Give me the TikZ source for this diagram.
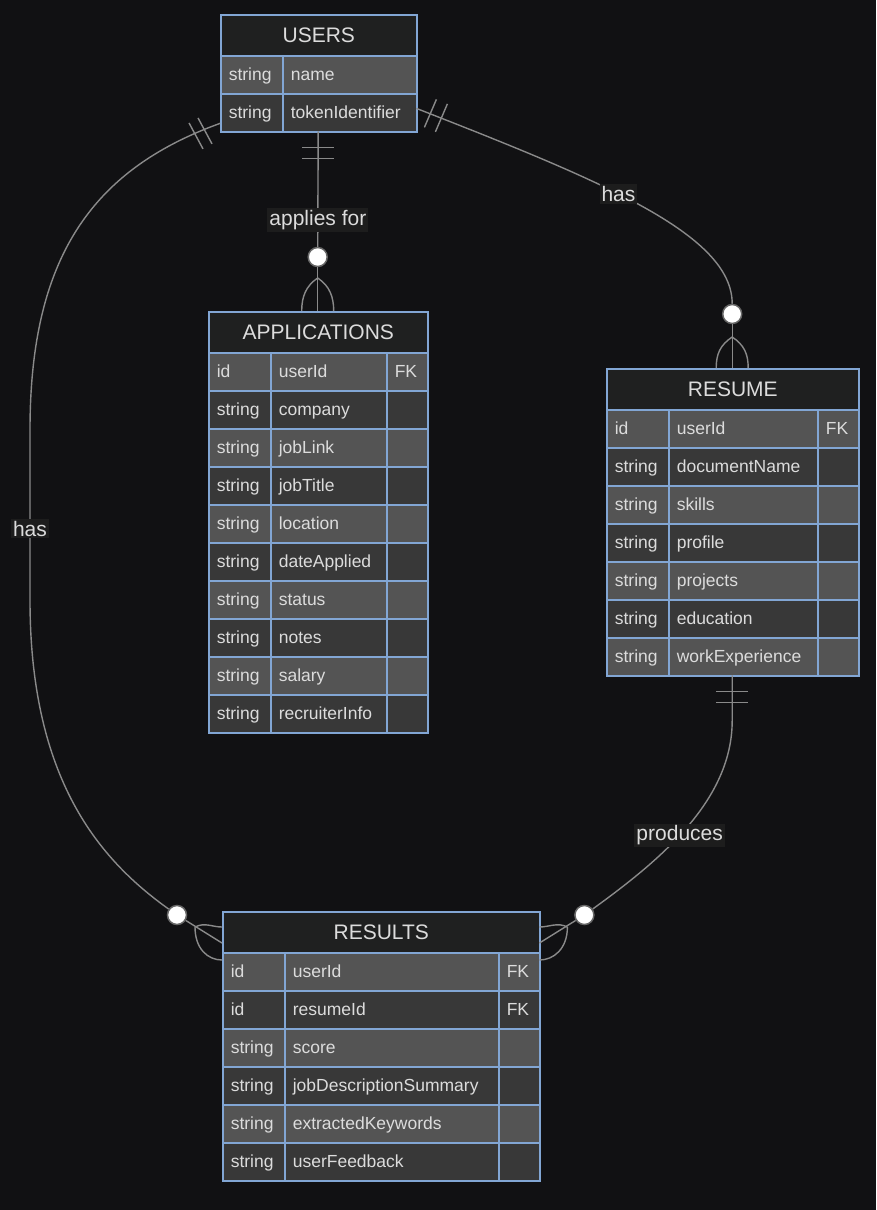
\documentclass[tikz,border=0pt]{standalone}
\usepackage{fontspec}
\setmainfont{Liberation Sans}
\usetikzlibrary{calc}

\definecolor{bg}{HTML}{111113}
\definecolor{headfill}{HTML}{1F2020}
\definecolor{rowA}{HTML}{545454}
\definecolor{rowB}{HTML}{383838}
\definecolor{edgeblue}{HTML}{82A6D4}
\definecolor{txt}{HTML}{DCDCDC}
\definecolor{linegrey}{HTML}{8A8A8A}
\definecolor{circgrey}{HTML}{666666}
\definecolor{labelbg}{HTML}{1D1D1D}

\tikzset{
  tablebox/.style={anchor=north west, inner sep=0pt},
  tablehead/.style={draw=edgeblue, line width=1.6pt, fill=headfill, text=txt, anchor=north west,
    minimum height=41pt, inner sep=0pt, font=\fontsize{21}{24}\selectfont},
  cell/.style={draw=edgeblue, line width=1.6pt, anchor=north west, minimum height=38pt,
    text width=#1, inner xsep=8pt, inner ysep=0pt, text height=14pt, text depth=2pt,
    align=left, text=txt, font=\fontsize{17.5}{20}\selectfont},
  rel/.style={draw=linegrey, line width=1.4pt},
  rellabel/.style={fill=labelbg, text=txt, inner sep=2pt, font=\fontsize{21}{24}\selectfont},
  zeromark/.style={circle, draw=circgrey, fill=white, line width=1.5pt, minimum size=19pt, inner sep=0pt}
}

\begin{document}
\begin{tikzpicture}[x=1pt, y=-1pt]
  \fill[bg] (0,0) rectangle (876,1210);
  \useasboundingbox (0,0) rectangle (876,1210);

  % USERS
  \node[tablebox, minimum width=196pt, minimum height=117pt] (users) at (220,14) {};
  \node[tablehead, minimum width=196pt] (users-h) at (220,14) {USERS};
  \foreach \ty/\nm [count=\i] in {string/name, string/tokenIdentifier} {
    \pgfmathtruncatemacro{\yy}{55+38*(\i-1)}
    \ifodd\i\def\rf{rowA}\else\def\rf{rowB}\fi
    \node[cell=46pt, fill=\rf] (users-t\i) at (220,\yy) {\ty};
    \node[cell=118pt, fill=\rf] (users-n\i) at (282,\yy) {\nm};
  }

  % APPLICATIONS
  \node[tablebox, minimum width=219pt, minimum height=421pt] (applications) at (208,311) {};
  \node[tablehead, minimum width=219pt] (applications-h) at (208,311) {APPLICATIONS};
  \foreach \ty/\nm/\k [count=\i] in {id/userId/FK, string/company/{}, string/jobLink/{},
      string/jobTitle/{}, string/location/{}, string/dateApplied/{}, string/status/{},
      string/notes/{}, string/salary/{}, string/recruiterInfo/{}} {
    \pgfmathtruncatemacro{\yy}{352+38*(\i-1)}
    \ifodd\i\def\rf{rowA}\else\def\rf{rowB}\fi
    \node[cell=46pt, fill=\rf] (app-t\i) at (208,\yy) {\ty};
    \node[cell=100pt, fill=\rf] (app-n\i) at (270,\yy) {\nm};
    \node[cell=25pt, fill=\rf] (app-k\i) at (386,\yy) {\k};
  }

  % RESUME
  \node[tablebox, minimum width=252pt, minimum height=307pt] (resume) at (606,368) {};
  \node[tablehead, minimum width=252pt] (resume-h) at (606,368) {RESUME};
  \foreach \ty/\nm/\k [count=\i] in {id/userId/FK, string/documentName/{}, string/skills/{},
      string/profile/{}, string/projects/{}, string/education/{}, string/workExperience/{}} {
    \pgfmathtruncatemacro{\yy}{409+38*(\i-1)}
    \ifodd\i\def\rf{rowA}\else\def\rf{rowB}\fi
    \node[cell=46pt, fill=\rf] (res-t\i) at (606,\yy) {\ty};
    \node[cell=133pt, fill=\rf] (res-n\i) at (668,\yy) {\nm};
    \node[cell=25pt, fill=\rf] (res-k\i) at (817,\yy) {\k};
  }

  % RESULTS
  \node[tablebox, minimum width=317pt, minimum height=269pt] (results) at (222,911) {};
  \node[tablehead, minimum width=317pt] (results-h) at (222,911) {RESULTS};
  \foreach \ty/\nm/\k [count=\i] in {id/userId/FK, id/resumeId/FK, string/score/{},
      string/jobDescriptionSummary/{}, string/extractedKeywords/{}, string/userFeedback/{}} {
    \pgfmathtruncatemacro{\yy}{952+38*(\i-1)}
    \ifodd\i\def\rf{rowA}\else\def\rf{rowB}\fi
    \node[cell=46pt, fill=\rf] (out-t\i) at (222,\yy) {\ty};
    \node[cell=198pt, fill=\rf] (out-n\i) at (284,\yy) {\nm};
    \node[cell=25pt, fill=\rf] (out-k\i) at (498,\yy) {\k};
  }

  % zero-or-more circles
  \node[zeromark] (app-z) at ($(applications.north)+(0,-54)$) {};
  \node[zeromark] (res-z) at ($(resume.north)+(0,-54)$) {};
  \node[zeromark] (rl-z) at ($(results.north west)+(-45,4)$) {};
  \node[zeromark] (rr-z) at ($(results.north east)+(45,4)$) {};

  \coordinate (users-e) at ($(users.south east)+(0,-23)$);
  \coordinate (users-w) at ($(users.south west)+(0,-8)$);
  \coordinate (app-f) at ($(applications.north)+(0,-33)$);
  \coordinate (res-f) at ($(resume.north)+(0,-31)$);
  \coordinate (rl-f) at ($(results.north west)+(-27,16)$);
  \coordinate (rr-f) at ($(results.north east)+(28,16)$);

  % users -- applications
  \draw[rel] (users.south) -- (app-z) node[rellabel, pos=0.77] {applies for};
  \draw[rel] (app-z) -- (applications.north);
  \draw[rel] ($(users.south)+(-16,16)$) -- ++(32,0);
  \draw[rel] ($(users.south)+(-16,27)$) -- ++(32,0);
  \draw[rel] (app-f) .. controls +(-12,8) and +(0,-14) .. ($(applications.north)+(-16,0)$);
  \draw[rel] (app-f) .. controls +(12,8) and +(0,-14) .. ($(applications.north)+(16,0)$);

  % users -- resume
  \draw[rel] (users-e) .. controls +(184,72) and +(0,-80) .. (res-z) node[rellabel, pos=0.43] {has};
  \draw[rel] (res-z) -- (resume.north);
  \draw[rel] ($(users-e)+(20,-9)$) -- ++(-12,28);
  \draw[rel] ($(users-e)+(31,-4.5)$) -- ++(-12,28);
  \draw[rel] (res-f) .. controls +(-12,8) and +(0,-14) .. ($(resume.north)+(-16,0)$);
  \draw[rel] (res-f) .. controls +(12,8) and +(0,-14) .. ($(resume.north)+(16,0)$);

  % users -- results
  \draw[rel] (users-w) .. controls +(-130,47) and +(0,-170) .. (30,430)
    -- (30,600) node[rellabel, pos=0.58] {has}
    .. controls +(0,180) and +(-77,-55) .. (rl-z);
  \draw[rel] ($(users-w)+(-31,-0.5)$) -- ++(14,26);
  \draw[rel] ($(users-w)+(-22,-5.5)$) -- ++(14,26);
  \draw[rel] (rl-z) -- ($(results.north west)+(0,32)$);
  \draw[rel] (rl-f) .. controls +(10,-5) and +(-10,0) .. ($(results.north west)+(0,16)$);
  \draw[rel] (rl-f) .. controls +(0,22) and +(-14,0) .. ($(results.north west)+(0,49)$);

  % resume -- results
  \draw[rel] (resume.south) -- ++(0,45) .. controls +(0,80) and +(76,-55) .. (rr-z)
    node[rellabel, pos=0.55] {produces};
  \draw[rel] ($(resume.south)+(-16,16)$) -- ++(32,0);
  \draw[rel] ($(resume.south)+(-16,27)$) -- ++(32,0);
  \draw[rel] (rr-z) -- ($(results.north east)+(0,32)$);
  \draw[rel] (rr-f) .. controls +(-10,-5) and +(10,0) .. ($(results.north east)+(0,16)$);
  \draw[rel] (rr-f) .. controls +(0,22) and +(14,0) .. ($(results.north east)+(0,49)$);
\end{tikzpicture}
\end{document}
